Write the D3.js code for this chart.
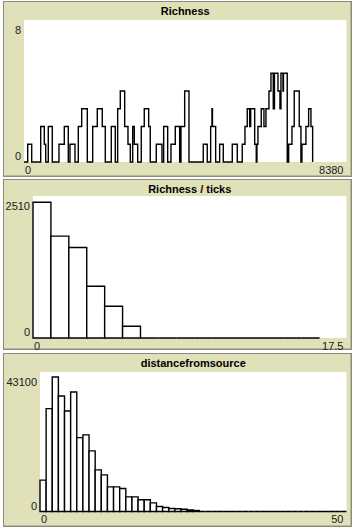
<!DOCTYPE html>
<html><head><meta charset="utf-8">
<script src="https://cdn.jsdelivr.net/npm/d3@7"></script>
<style>
html,body{margin:0;padding:0;background:#fff;}
svg{display:block;}
text{font-family:"Liberation Sans",Arial,sans-serif;}
</style></head>
<body>
<svg id="c" width="359" height="531"></svg>
<script>
// ---------- DATA ----------
// Panel 1: Richness over ticks (step changes: tick where value changes, new value)
const richnessTicks = [0,96,200,434,527,564,631,735,909,1047,1151,1195,1325,1411,1499,1645,1785,1904,2034,2112,2268,2372,2434,2502,2616,2702,2762,2824,2866,2954,3047,3125,3240,3281,3437,3585,3629,3733,3819,3931,4045,4079,4175,4287,4658,4762,4850,4884,4897,4980,5084,5178,5412,5542,5671,5742,5801,5864,5890,5994,6035,6053,6079,6165,6235,6287,6365,6417,6477,6508,6599,6651,6677,6729,6742,6840,6877,6963,7022,7152,7196,7222,7326,7396,7456,7500];
const richnessValues = [0,1,0,2,1,0,2,0,1,2,0,1,0,2,3,0,2,3,2,0,2,0,3,4,2,1,0,2,1,0,2,3,2,0,1,0,2,0,1,2,0,2,4,0,1,0,2,3,2,0,1,0,1,0,1,2,3,2,3,1,0,1,2,3,2,3,4,5,3,5,4,3,5,4,5,0,1,2,4,2,0,1,2,3,2,0];
const richnessXMax = 8380, richnessYMax = 8;

// Panel 2: histogram of Richness / ticks (bin width 1)
const ratioBins = [0,1,2,3,4,5,6,7,8,9,10,11,12,13,14,15];
const ratioCounts = [2400,1800,1600,915,560,207,0,0,0,0,0,0,0,0,0,0];
const ratioXMax = 17.5, ratioYMax = 2510;

// Panel 3: histogram of distancefromsource (bin width 1)
const distCounts = [9690,31780,41560,35700,31070,36930,22830,23660,18730,12870,11320,7620,7620,7100,4530,4530,3610,3610,2680,1540,1230,930,830,700,450,300,0,0,0,0,0,0,0,0,0,0,0,0,0,0,0,0,0,0,0,0,0,0,0,0];
const distBins = distCounts.map((d,i)=>i);
const distXMax = 50, distYMax = 43100;

// ---------- DRAW ----------
const svg = d3.select("#c");
const BG = "#e0e0b9";

const panels = [
  {title:"Richness", box:[3,1,352,177], plot:[24,20,346.5,162]},
  {title:"Richness / ticks", box:[3,179,352,350], plot:[33,196,346.5,338]},
  {title:"distancefromsource", box:[3,353,352,527], plot:[40,372,346.5,511.5]}
];

function frame(p){
  const [x0,y0,x1,y1] = p.box;
  const g = svg.append("g");
  g.append("rect").attr("x",x0).attr("y",y0).attr("width",x1-x0).attr("height",y1-y0)
    .attr("fill",BG);
  g.append("rect").attr("x",x0+0.5).attr("y",y0+0.5).attr("width",x1-x0-1).attr("height",y1-y0-1)
    .attr("fill","none").attr("stroke","#8a8a80").attr("stroke-width",1);
  g.append("path").attr("d",`M${x1-1.5},${y0+1}V${y1-1.5}H${x0+1}`)
    .attr("fill","none").attr("stroke","#b8b89a").attr("stroke-width",1);
  const [px0,py0,px1,py1] = p.plot;
  g.append("rect").attr("x",px0).attr("y",py0).attr("width",px1-px0).attr("height",py1-py0).attr("fill","#fff");
  g.append("text").attr("x",(px0+px1)/2).attr("y",y0+14).attr("text-anchor","middle")
    .attr("font-weight","bold").attr("font-size",11).attr("fill","#000").text(p.title);
  return g;
}

function labels(g,p,x,y,xmaxLabel,ymaxLabel){
  const [px0,py0,px1,py1] = p.plot;
  const fs = 11, col="#222";
  g.append("text").attr("x",px0-3).attr("y",y.range()[1]+14).attr("text-anchor","end")
    .attr("font-size",fs).attr("fill",col).text(ymaxLabel);
  g.append("text").attr("x",px0-3).attr("y",y(0)-2).attr("text-anchor","end")
    .attr("font-size",fs).attr("fill",col).text("0");
  g.append("text").attr("x",x(0)+1).attr("y",py1+11.5).attr("text-anchor","start")
    .attr("font-size",fs).attr("fill",col).text("0");
  g.append("text").attr("x",px1-3).attr("y",py1+11.5).attr("text-anchor","end")
    .attr("font-size",fs).attr("fill",col).text(xmaxLabel);
}

// Panel 1
{
  const p = panels[0];
  const g = frame(p);
  const x = d3.scaleLinear().domain([0,richnessXMax]).range([p.plot[0],p.plot[2]]);
  const y = d3.scaleLinear().domain([0,richnessYMax]).range([p.plot[3],p.plot[1]]);
  const pts = richnessTicks.map((t,i)=>[t,richnessValues[i]]);
  const line = d3.line().x(d=>x(d[0])).y(d=>y(d[1])).curve(d3.curveStepAfter);
  g.append("path").attr("d",line(pts)).attr("fill","none").attr("stroke","#000").attr("stroke-width",1.4);
  labels(g,p,x,y,String(richnessXMax),String(richnessYMax));
}

function histo(p,bins,counts,xmax,ymax){
  const g = frame(p);
  const x = d3.scaleLinear().domain([0,xmax]).range([p.plot[0],p.plot[2]]);
  const y = d3.scaleLinear().domain([0,ymax]).range([p.plot[3],p.plot[1]]);
  g.append("g").selectAll("path").data(bins).join("path")
    .attr("d",(b,i)=>{
      const x0=x(b), x1=x(b+1), yb=y(0), yt=y(counts[i]);
      return `M${x0},${yb}V${yt}H${x1}V${yb}Z`;
    })
    .attr("fill","#fff").attr("stroke","#000").attr("stroke-width",1.4);
  labels(g,p,x,y,String(xmax),String(ymax));
}
histo(panels[1],ratioBins,ratioCounts,ratioXMax,ratioYMax);
histo(panels[2],distBins,distCounts,distXMax,distYMax);
</script>
</body></html>
